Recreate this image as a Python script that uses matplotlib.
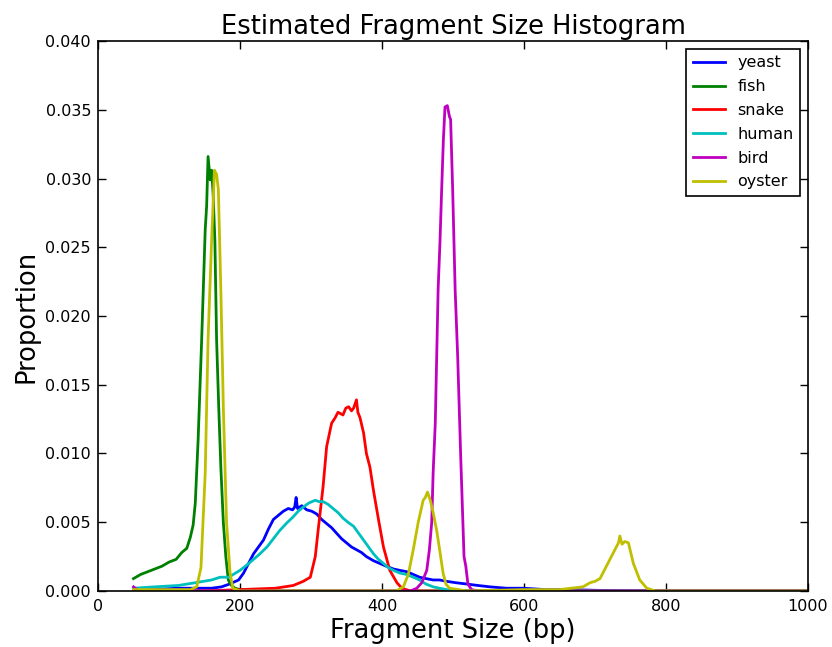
import matplotlib
matplotlib.use("Agg")
import matplotlib.pyplot as plt

yeast_x = [50, 80, 110, 140, 160, 174, 185, 198, 205, 212, 219, 226, 233, 240, 247, 254, 261, 268, 274, 277, 279, 281,
           287, 294, 301, 308, 315, 322, 329, 336, 343, 350, 357, 364, 371, 378, 388, 397, 406, 416, 425, 435, 444, 453,
           462, 472, 481, 491, 504, 520, 535, 552, 575, 599, 630, 660, 700, 750, 800, 900, 1000]
yeast_y = [0.0001, 0.0001, 0.0002, 0.0002, 0.0002, 0.0003, 0.0005, 0.0008, 0.0013, 0.002, 0.0027, 0.0032, 0.0037, 0.0045,
           0.0052, 0.0055, 0.0058, 0.006, 0.0059, 0.0061, 0.0068, 0.006, 0.0062, 0.0059, 0.0058, 0.0056, 0.0052, 0.0049,
           0.0046, 0.0042, 0.0038, 0.0035, 0.0032, 0.003, 0.0028, 0.0025, 0.0022, 0.002, 0.0018, 0.0016, 0.0015, 0.0014,
           0.0012, 0.001, 0.0009, 0.0008, 0.0008, 0.0007, 0.0006, 0.0005, 0.0004, 0.0003, 0.0002, 0.0002, 0.0001, 0.0001,
           0.00005, 0.0, 0.0, 0.0, 0.0]

fish_x = [50, 60, 70, 80, 90, 100, 110, 118, 125, 130, 134, 137, 141, 146, 151, 153, 155, 158, 160, 162, 164.6, 167,
          170, 173, 176.5, 180, 183.5, 188, 193, 200, 250, 1000]
fish_y = [0.0009, 0.0012, 0.0014, 0.0016, 0.0018, 0.0021, 0.0023, 0.0028, 0.0031, 0.0039, 0.0048, 0.0064, 0.011, 0.0183,
          0.0263, 0.028, 0.0316, 0.0299, 0.0306, 0.029, 0.0255, 0.0183, 0.0134, 0.009, 0.005, 0.0025, 0.0008, 0.0004,
          0.0002, 0.0001, 0.0, 0.0]

snake_x = [50, 150, 200, 250, 275, 289, 299, 306, 310, 317, 322, 329, 334, 338, 345, 349, 353, 357, 360, 364, 366, 369,
           374, 378, 383, 388, 395, 402, 411, 421, 428, 440, 1000]
snake_y = [0.0, 0.0, 0.0001, 0.0002, 0.0004, 0.0007, 0.001, 0.0025, 0.0044, 0.0076, 0.0105, 0.0122, 0.0126, 0.013,
           0.0128, 0.0133, 0.0134, 0.0131, 0.0133, 0.0139, 0.013, 0.0126, 0.0115, 0.01, 0.009, 0.0073, 0.0052, 0.0032,
           0.0015, 0.0006, 0.0002, 0.0, 0.0]

human_x = [50, 80, 113, 137, 160, 172, 184, 200, 210, 219, 228, 238, 247, 256, 265, 275, 282, 289, 297, 306, 311, 317,
           324, 331, 338, 345, 352, 360, 367, 374, 381, 388, 395, 402, 409, 416, 425, 435, 444, 453, 462, 472, 481, 491,
           500, 1000]
human_y = [0.0002, 0.0003, 0.0004, 0.0006, 0.0008, 0.001, 0.001, 0.0015, 0.0019, 0.0023, 0.0027, 0.0032, 0.0038, 0.0044,
           0.0049, 0.0054, 0.0058, 0.0061, 0.0064, 0.0066, 0.0065, 0.0065, 0.0063, 0.006, 0.0057, 0.0053, 0.005, 0.0047,
           0.0042, 0.0037, 0.0032, 0.0027, 0.0023, 0.002, 0.0017, 0.0015, 0.0013, 0.0012, 0.001, 0.0008, 0.0005, 0.0003,
           0.0002, 0.0001, 0.0, 0.0]

bird_x = [50, 55, 60, 440, 449, 456, 463, 466.7, 470, 472, 475, 479, 481.7, 484, 486.4, 488.7, 492, 495, 496.6, 499.5,
          503, 506.6, 510.8, 515.5, 518, 521, 526, 535, 1000]
bird_y = [0.0003, 0.0001, 0.0, 0.0, 0.0002, 0.0006, 0.0015, 0.003, 0.005, 0.0086, 0.0122, 0.0219, 0.0255, 0.0292, 0.0328,
          0.0352, 0.0353, 0.0345, 0.0343, 0.0292, 0.0219, 0.017, 0.0098, 0.0025, 0.0018, 0.0005, 0.0001, 0.0, 0.0]

oyster_x = [50, 100, 130, 139, 145, 151, 155, 160, 164, 167, 169.5, 173, 176.5, 181, 186, 190, 200, 300, 420, 430, 437,
            444, 451, 458, 461, 464, 468, 472, 477, 482, 486, 490, 495, 520, 600, 650, 683, 693, 700, 707, 716, 726,
            733, 735, 738, 742, 747, 754, 763, 773, 785, 1000]
oyster_y = [0.0001, 0.0001, 0.0001, 0.0003, 0.0017, 0.0086, 0.0183, 0.0255, 0.0306, 0.0303, 0.0292, 0.0219, 0.0134,
            0.005, 0.0013, 0.0002, 0.0, 0.0, 0.0, 0.0003, 0.0012, 0.003, 0.005, 0.0066, 0.0068, 0.0072, 0.0066, 0.0057,
            0.0044, 0.0027, 0.0013, 0.0005, 0.0002, 0.0, 0.0001, 0.0001, 0.0003, 0.0006, 0.0007, 0.0009, 0.0018,
            0.0028, 0.0035, 0.004, 0.0034, 0.0036, 0.0035, 0.002, 0.0008, 0.0002, 0.0, 0.0]

series = [("yeast", yeast_x, yeast_y, "#0000ff"),
          ("fish", fish_x, fish_y, "#008000"),
          ("snake", snake_x, snake_y, "#ff0000"),
          ("human", human_x, human_y, "#00bfbf"),
          ("bird", bird_x, bird_y, "#bf00bf"),
          ("oyster", oyster_x, oyster_y, "#bfbf00")]

fig = plt.figure(figsize=(8.32, 6.47), dpi=100)
ax = fig.add_axes([0.1178, 0.0866, 0.8534, 0.85])
for name, xs, ys, c in series:
    ax.plot(xs, ys, color=c, lw=2, label=name)

ax.set_xlim(0, 1000)
ax.set_ylim(0, 0.040)
ax.set_xticks([0, 200, 400, 600, 800, 1000])
ax.set_yticks([0.0, 0.005, 0.010, 0.015, 0.020, 0.025, 0.030, 0.035, 0.040])
ax.set_yticklabels(["%.3f" % v for v in ax.get_yticks()])
ax.tick_params(direction="in", top=True, right=True, length=6, width=1, labelsize=11.5)
ax.tick_params(axis="y", pad=5)
ax.tick_params(axis="x", pad=6)
for sp in ax.spines.values():
    sp.set_linewidth(1.2)

ax.set_title("Estimated Fragment Size Histogram", fontsize=18.5, pad=5)
ax.set_xlabel("Fragment Size (bp)", fontsize=18.5, labelpad=3)
ax.set_ylabel("Proportion", fontsize=18.5)

leg = ax.legend(loc="upper right", fontsize=11.5, fancybox=False, framealpha=1, edgecolor="black",
                handlelength=2.0, borderaxespad=0.5, labelspacing=0.55)
leg.get_frame().set_linewidth(1.2)

fig.savefig("out.png", dpi=100)
